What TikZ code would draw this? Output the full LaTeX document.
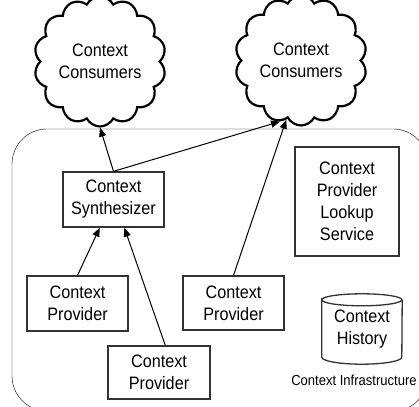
\documentclass[tikz,border=0pt]{standalone}
\usepackage{fontspec}
\setmainfont{Liberation Sans}[FakeStretch=0.9]
\usepackage{xcolor}
\definecolor{Charcoal}{HTML}{333333}
\colorlet{cBox}{Charcoal}
\usepackage{tikz}
\usetikzlibrary{positioning, arrows.meta, shapes.symbols}
\tikzset{
	x = 1pt,
	y = 1pt,
	line width = 1pt,
	>={Triangle[length=9pt, width=7pt]},
	font = \fontsize{18}{22}\selectfont,
	consumer/.style={
		draw,
		cloud,
		cloud puffs=14,
		cloud puff arc=125,
		line width=2.2pt,
		minimum width=132pt,
		minimum height=104pt,
		inner sep=0pt,
		align=center
	},
	component/.style={
		draw=cBox,
		rectangle,
		line width=1.3pt,
		inner sep=0pt,
		align=center
	},
	store/.style={
		rectangle,
		minimum width=80pt,
		minimum height=70pt,
		inner sep=0pt,
		align=center
	},
	edge/.style={
		->,
		line width=1pt
	}
}

\begin{document}
\begin{tikzpicture}
\useasboundingbox (0,0) rectangle (419,406);
% ---
% Infrastructure frame
% ---
\node[draw, rounded corners=35pt, inner sep=0pt, minimum width=416pt, minimum height=282pt] at (220,136) (infra) {};
\node[font=\fontsize{14.5}{16}\selectfont] at (354,26) (infralabel) {Context Infrastructure};

\node[consumer] at (100,344.5) (cons1) {Context\\Consumers};
\node[consumer] at (301,345.5) (cons2) {Context\\Consumers};

\node[component, minimum width=101pt, minimum height=55pt] at (113.5,206.5) (synth) {Context\\Synthesizer};
\node[component, minimum width=104pt, minimum height=109pt] at (347,204.5) (lookup) {Context\\Provider\\Lookup\\Service};

\node[component, minimum width=101pt, minimum height=55pt] at (77.5,102.5) (prov1) {Context\\Provider};
\node[component, minimum width=101pt, minimum height=54pt] at (233.5,103) (prov2) {Context\\Provider};
\node[component, minimum width=102pt, minimum height=53pt] at (159,33.5) (prov3) {Context\\Provider};

% history drum
\node[store] at (362,77) (hist) {Context\\History};
\draw[cBox, line width=1.3pt] ([yshift=-6pt]hist.north west) arc[start angle=180, end angle=-180, x radius=40pt, y radius=6pt]
	-- ([yshift=7pt]hist.south west) arc[start angle=180, end angle=360, x radius=40pt, y radius=7pt]
	-- ([yshift=-6pt]hist.north east);

\draw[edge] (synth.north) to (cons1.south);
\draw[edge] (synth.north) to (cons2.251);
\draw[edge] (prov2.north) to (cons2.256);

\draw[edge] (prov1.north) to (synth.244);
\draw[edge] (prov3.77) to (synth.291);

\end{tikzpicture}
\end{document}
